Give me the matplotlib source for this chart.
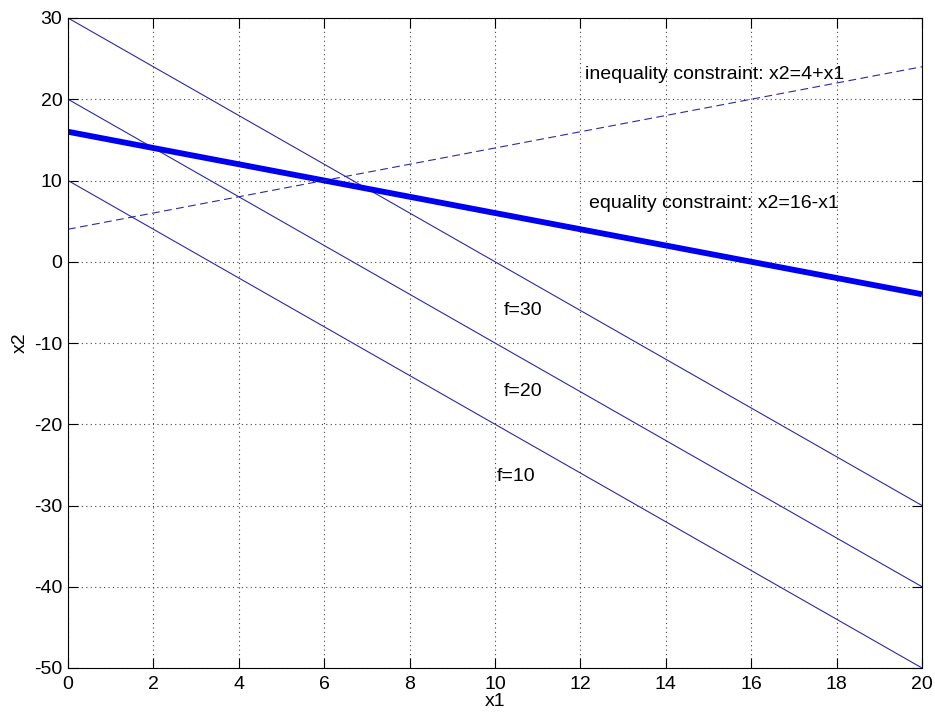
import numpy as np
import matplotlib
matplotlib.use("Agg")
import matplotlib.pyplot as plt

plt.rcParams['font.family'] = ['Liberation Sans', 'DejaVu Sans']
plt.rcParams['axes.unicode_minus'] = False

x1 = np.array([0, 20])
f_levels = [10, 20, 30]
f_intercepts = [10, 20, 30]
f_slope = -3
eq_intercept, eq_slope = 16, -1
ineq_intercept, ineq_slope = 4, 1

xticks = list(range(0, 21, 2))
yticks = list(range(-50, 31, 10))

fig = plt.figure(figsize=(9.35, 7.17), dpi=100)
ax = fig.add_axes([68/935, 1-668/717, (922-68)/935, (668-18)/717])

lc = '#2a2aa8'
for b in f_intercepts:
    ax.plot(x1, b + f_slope * x1, color=lc, lw=0.8)
ax.plot(x1, eq_intercept + eq_slope * x1, color='#0000f0', lw=4.2, solid_capstyle='butt')
ax.plot(x1, ineq_intercept + ineq_slope * x1, color=lc, lw=0.8, ls=(0, (7, 4)))

fs = 14
ax.text(12.1, 23, 'inequality constraint: x2=4+x1', fontsize=fs, va='center', ha='left')
ax.text(12.2, 7.2, 'equality constraint: x2=16-x1', fontsize=fs, va='center', ha='left')
ax.text(10.2, -6, 'f=30', fontsize=fs, va='center', ha='left')
ax.text(10.2, -16, 'f=20', fontsize=fs, va='center', ha='left')
ax.text(10.05, -26.4, 'f=10', fontsize=fs, va='center', ha='left')

ax.set_xlim(0, 20)
ax.set_ylim(-50, 30)
ax.set_xticks(xticks)
ax.set_yticks(yticks)
ax.tick_params(direction='in', length=7, width=0.8, top=True, right=True, labelsize=fs)
ax.tick_params(axis='x', pad=6)
ax.tick_params(axis='y', pad=4)
ax.grid(True, ls=(0, (1, 3)), color='#444444', lw=0.8)
for s in ax.spines.values():
    s.set_linewidth(0.8)
ax.set_xlabel('x1', fontsize=fs, labelpad=0)
ax.set_ylabel('x2', fontsize=fs, labelpad=4)

fig.savefig('out.png', dpi=100)
